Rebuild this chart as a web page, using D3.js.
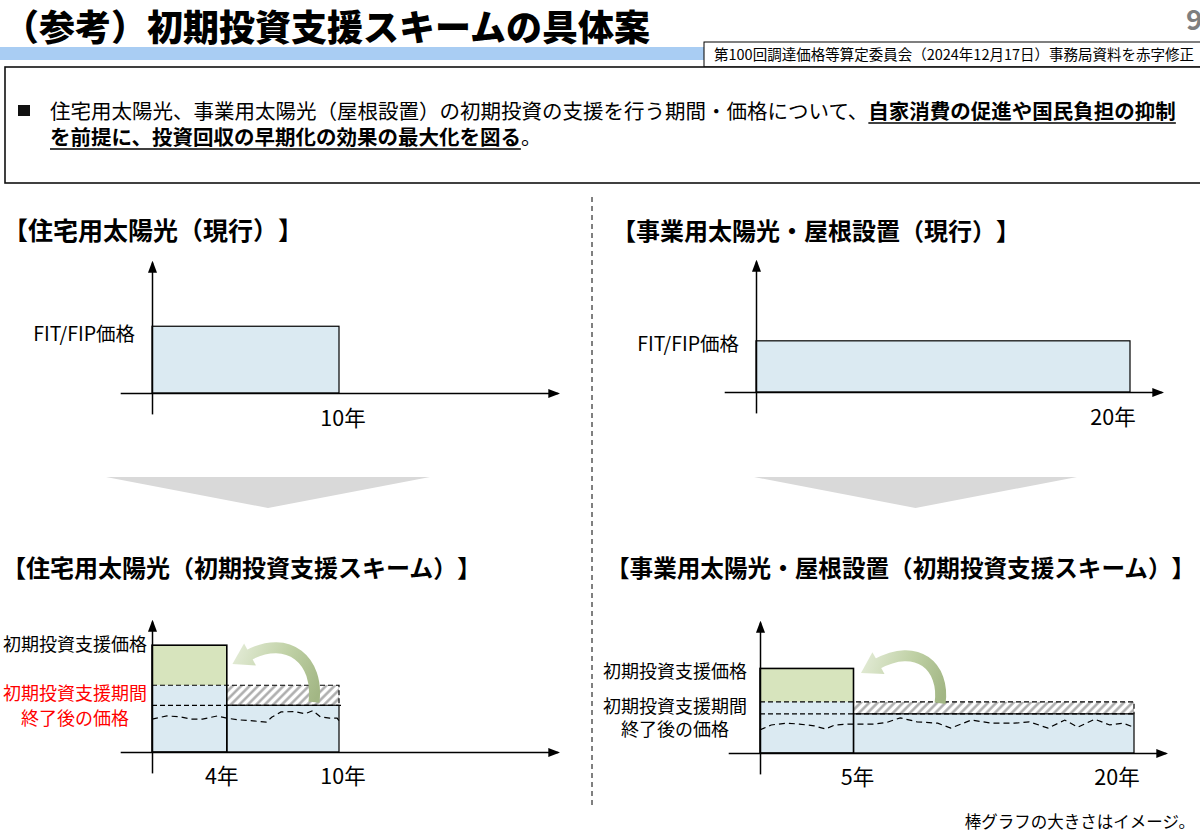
<!DOCTYPE html>
<html><head><meta charset="utf-8">
<script src="https://cdn.jsdelivr.net/npm/d3@7"></script>
<style>
body{margin:0;background:#fff}
svg{display:block}
text{font-family:"Noto Sans CJK JP","Noto Sans",sans-serif;text-spacing-trim:space-all}
</style>
</head><body>
<svg id="c" width="1200" height="837"></svg>
<script>
// ---------- texts ----------
const titleText = "（参考）初期投資支援スキームの具体案";
const sourceNote = "第100回調達価格等算定委員会（2024年12月17日）事務局資料を赤字修正";
const pageNumber = "9";
const bulletNormal1 = "住宅用太陽光、事業用太陽光（屋根設置）の初期投資の支援を行う期間・価格について、";
const bulletBold1 = "自家消費の促進や国民負担の抑制";
const bulletBold2 = "を前提に、投資回収の早期化の効果の最大化を図る";
const bulletNormal2 = "。";
const footnote = "棒グラフの大きさはイメージ。";
const panelTitles = [
  "【住宅用太陽光（現行）】",
  "【事業用太陽光・屋根設置（現行）】",
  "【住宅用太陽光（初期投資支援スキーム）】",
  "【事業用太陽光・屋根設置（初期投資支援スキーム）】"
];
const fitLabel = "FIT/FIP価格";
const supportLabel = "初期投資支援価格";
const afterLabelLines = ["初期投資支援期間", "終了後の価格"];

// ---------- data (years, price units) ----------
const currentYears = [10, 20];
const currentPrice = [15, 11.5];

const schemeSupportYears = [4, 5];
const schemeTotalYears = [10, 20];
const schemeSupportPrice = [24, 19];
const schemeBasePrice = [15, 11.5];
const schemeAfterPrice = [10.5, 8.8];

const marketYearsRes = [0, 0.8, 1.5, 2.1, 2.7, 3.5, 4.0, 4.7, 5.4, 6.1, 6.4, 6.9, 7.6, 8.2, 8.6, 9.0, 9.5, 9.9, 10.0];
const marketPriceRes = [7.4, 8.1, 7.9, 7.4, 7.4, 8.1, 7.6, 7.2, 7.0, 6.7, 7.8, 9.0, 9.1, 8.6, 9.3, 7.9, 7.6, 7.6, 7.0];
const marketYearsBiz = [0, 0.6, 1.4, 2.1, 2.9, 3.5, 4.0, 4.7, 5.4, 6.1, 6.8, 7.5, 8.4, 9.5, 10.2, 11.3, 12.4, 13.6, 14.4, 15.4, 16.3, 17.0, 17.9, 18.7, 19.4, 20.0];
const marketPriceBiz = [5.2, 6.3, 6.7, 6.5, 6.1, 5.4, 6.3, 6.5, 6.5, 6.5, 6.9, 7.9, 7.0, 6.7, 5.6, 7.4, 6.7, 6.7, 7.0, 5.6, 7.4, 5.8, 7.6, 6.3, 6.7, 5.8];

// curved arrow annotation points [year, price]
const arrowTail  = [[8.66, 11.2], [9.63, 11.2]];
const arrowCtrl1 = [[8.95, 20.5], [9.9, 19.4]];
const arrowCtrl2 = [[7.3, 26.6], [8.4, 25.0]];
const arrowTip   = [[4.3, 19.8], [5.4, 18.0]];

// ---------- layout ----------
const pxPerYear = 18.7, pxPerUnit = 4.45;
const xAxisExtent = [-1.7, 21.7];
const yAxisExtent = [-4.7, 29.4];
const panels = [
  {ox:152, ay:393}, {ox:756, ay:392}, {ox:152, ay:752}, {ox:760, ay:753}
];
const C = {blue:"#dbeaf2", green:"#d7e4bd", band:"#a9cdf3", gray:"#d9d9d9", red:"#ff0000"};

const svg = d3.select("#c");
const defs = svg.append("defs");
defs.append("marker").attr("id","ah").attr("viewBox","0 0 12 9")
  .attr("refX",10).attr("refY",4.5).attr("markerWidth",12).attr("markerHeight",9)
  .attr("markerUnits","userSpaceOnUse").attr("orient","auto")
  .append("path").attr("d","M0,0L12,4.5L0,9Z").attr("fill","#000");
const hp = defs.append("pattern").attr("id","hatch").attr("patternUnits","userSpaceOnUse")
  .attr("width",6).attr("height",6).attr("patternTransform","rotate(45)");
hp.append("rect").attr("width",6).attr("height",6).attr("fill","#fff");
hp.append("line").attr("x1",1.5).attr("y1",0).attr("x2",1.5).attr("y2",6)
  .attr("stroke","#a8a8a8").attr("stroke-width",2.4);

// ---------- header ----------
svg.append("rect").attr("x",0).attr("y",47).attr("width",1200).attr("height",13).attr("fill",C.band);
svg.append("text").attr("x",3).attr("y",41).attr("font-size",36).attr("font-weight",900).text(titleText);
svg.append("text").attr("x",1186).attr("y",30).attr("font-size",28).attr("font-weight",700).attr("fill","#7f7f7f").text(pageNumber);
svg.append("rect").attr("x",704).attr("y",42).attr("width",500).attr("height",25).attr("fill","#fff").attr("stroke","#000").attr("stroke-width",1);
svg.append("text").attr("x",714).attr("y",60).attr("font-size",14.5).text(sourceNote);

// bullet box
svg.append("rect").attr("x",5).attr("y",67).attr("width",1200).attr("height",116)
  .attr("fill","#fff").attr("stroke","#111").attr("stroke-width",1.6);
svg.append("rect").attr("x",18).attr("y",105).attr("width",12).attr("height",11).attr("fill","#111");
const fs = 20.5, lx = 50, b1 = 119, b2 = 145;
const t1 = svg.append("text").attr("x",lx).attr("y",b1).attr("font-size",fs).text(bulletNormal1);
const w1 = t1.node().getComputedTextLength();
const t1b = svg.append("text").attr("x",lx+w1).attr("y",b1).attr("font-size",fs).attr("font-weight",700).text(bulletBold1);
const w1b = t1b.node().getComputedTextLength();
svg.append("line").attr("x1",lx+w1).attr("x2",lx+w1+w1b).attr("y1",b1+4).attr("y2",b1+4).attr("stroke","#000").attr("stroke-width",1.6);
const t2 = svg.append("text").attr("x",lx).attr("y",b2).attr("font-size",fs).attr("font-weight",700).text(bulletBold2);
const w2 = t2.node().getComputedTextLength();
svg.append("line").attr("x1",lx).attr("x2",lx+w2).attr("y1",b2+4).attr("y2",b2+4).attr("stroke","#000").attr("stroke-width",1.6);
svg.append("text").attr("x",lx+w2).attr("y",b2).attr("font-size",fs).text(bulletNormal2);

// divider
svg.append("line").attr("x1",592).attr("x2",592).attr("y1",197).attr("y2",808)
  .attr("stroke","#000").attr("stroke-width",1).attr("stroke-dasharray","5,4");

// chevrons
[[106,430,477,508],[754,1077,477,508]].forEach(([a,b,t,bot])=>{
  svg.append("path").attr("d",`M${a},${t}L${b},${t}L${(a+b)/2},${bot}Z`).attr("fill",C.gray);
});

// panel titles
const titlePos = [[3,240,25],[612,240,24],[2,577,24],[606,577,23.6]];
panelTitles.forEach((t,i)=>{
  svg.append("text").attr("x",titlePos[i][0]).attr("y",titlePos[i][1]).attr("font-size",titlePos[i][2]).attr("font-weight",700).text(t);
});

// footnote
svg.append("text").attr("x",1195).attr("y",828).attr("text-anchor","end").attr("font-size",16.5).text(footnote);

// ---------- helpers ----------
function scales(p){
  const xs = d3.scaleLinear().domain([0,20]).range([p.ox, p.ox + 20*pxPerYear]);
  const ys = d3.scaleLinear().domain([0,20]).range([p.ay, p.ay - 20*pxPerUnit]);
  return {xs, ys};
}
function axes(g, xs, ys){
  const xa = xs.copy().domain(xAxisExtent).range(xAxisExtent.map(xs));
  const ya = ys.copy().domain(yAxisExtent).range(yAxisExtent.map(ys));
  const gx = g.append("g").attr("transform",`translate(0,${ys(0)})`)
    .call(d3.axisBottom(xa).tickValues([]).tickSizeOuter(0));
  gx.select(".domain").attr("stroke","#000").attr("stroke-width",1.5).attr("marker-end","url(#ah)");
  const gy = g.append("g").attr("transform",`translate(${xs(0)},0)`)
    .call(d3.axisLeft(ya).tickValues([]).tickSizeOuter(0));
  gy.select(".domain").attr("stroke","#000").attr("stroke-width",1.5).attr("marker-end","url(#ah)");
}
function yearLabel(g, xs, ys, year, dx, dy){
  g.append("text").attr("x",xs(year)+dx).attr("y",ys(0)+dy).attr("text-anchor","middle")
    .attr("font-size",21.5).text(year+"年");
}
function curvedArrow(g, xs, ys, tail, c1, c2, tip, id){
  const T=[xs(tail[0]),ys(tail[1])], A=[xs(c1[0]),ys(c1[1])], Bc=[xs(c2[0]),ys(c2[1])], P=[xs(tip[0]),ys(tip[1])];
  let dx=P[0]-Bc[0], dy=P[1]-Bc[1]; const L=Math.hypot(dx,dy); dx/=L; dy/=L;
  const headLen=20, hh=12.5;
  const B=[P[0]-dx*headLen, P[1]-dy*headLen];
  const gr = defs.append("linearGradient").attr("id",id).attr("gradientUnits","userSpaceOnUse")
    .attr("x1",T[0]).attr("y1",T[1]).attr("x2",P[0]).attr("y2",P[1]);
  gr.append("stop").attr("offset",0).attr("stop-color","#a2b684");
  gr.append("stop").attr("offset",0.5).attr("stop-color","#c0d1a6");
  gr.append("stop").attr("offset",1).attr("stop-color","#e0e9d2");
  g.append("path").attr("d",`M${T[0]},${T[1]}C${A[0]},${A[1]} ${Bc[0]},${Bc[1]} ${B[0]+dx*2},${B[1]+dy*2}`)
    .attr("fill","none").attr("stroke",`url(#${id})`).attr("stroke-width",11);
  g.append("path").attr("d",`M${P[0]},${P[1]}L${B[0]-dy*hh},${B[1]+dx*hh}L${B[0]+dy*hh},${B[1]-dx*hh}Z`)
    .attr("fill",`url(#${id})`);
}

// ---------- current charts ----------
[0,1].forEach(i=>{
  const g = svg.append("g");
  const {xs, ys} = scales(panels[i]);
  g.append("rect").attr("x",xs(0)).attr("y",ys(currentPrice[i]))
    .attr("width",xs(currentYears[i])-xs(0)).attr("height",ys(0)-ys(currentPrice[i]))
    .attr("fill",C.blue).attr("stroke","#000").attr("stroke-width",1.2);
  axes(g, xs, ys);
  g.append("text").attr("x",xs(0)-17).attr("y",ys(currentPrice[i])+ (i===0?9:5))
    .attr("text-anchor","end").attr("dominant-baseline","middle").attr("font-size",19.5).text(fitLabel);
  yearLabel(g, xs, ys, currentYears[i], i===0?4:-17, 33);
});

// ---------- scheme charts ----------
const markets = [[marketYearsRes, marketPriceRes],[marketYearsBiz, marketPriceBiz]];
[0,1].forEach(i=>{
  const g = svg.append("g");
  const {xs, ys} = scales(panels[i+2]);
  const s = schemeSupportYears[i], T = schemeTotalYears[i];
  const sp = schemeSupportPrice[i], bp = schemeBasePrice[i], ap = schemeAfterPrice[i];
  // hatch
  g.append("rect").attr("x",xs(s)).attr("y",ys(bp)).attr("width",xs(T)-xs(s)).attr("height",ys(ap)-ys(bp))
    .attr("fill","url(#hatch)");
  // later bar
  g.append("rect").attr("x",xs(s)).attr("y",ys(ap)).attr("width",xs(T)-xs(s)).attr("height",ys(0)-ys(ap))
    .attr("fill",C.blue).attr("stroke","#000").attr("stroke-width",1.2);
  // first bar
  g.append("rect").attr("x",xs(0)).attr("y",ys(sp)).attr("width",xs(s)-xs(0)).attr("height",ys(bp)-ys(sp))
    .attr("fill",C.green);
  g.append("rect").attr("x",xs(0)).attr("y",ys(bp)).attr("width",xs(s)-xs(0)).attr("height",ys(0)-ys(bp))
    .attr("fill",C.blue);
  g.append("rect").attr("x",xs(0)).attr("y",ys(sp)).attr("width",xs(s)-xs(0)).attr("height",ys(0)-ys(sp))
    .attr("fill","none").attr("stroke","#000").attr("stroke-width",1.6);
  // dashed lines
  g.append("path").attr("d",`M${xs(0)},${ys(bp)}H${xs(T)}V${ys(ap)}`)
    .attr("fill","none").attr("stroke","#000").attr("stroke-width",1.2).attr("stroke-dasharray","5,3");
  g.append("line").attr("x1",xs(0)).attr("x2",xs(T)+(i===0?4:0)).attr("y1",ys(ap)).attr("y2",ys(ap))
    .attr("stroke","#000").attr("stroke-width",1.2).attr("stroke-dasharray","5,3");
  // market wave
  const [my, mp] = markets[i];
  const line = d3.line().x(d=>xs(d[0])).y(d=>ys(d[1]));
  g.append("path").attr("d", line(d3.zip(my, mp))).attr("fill","none")
    .attr("stroke","#000").attr("stroke-width",1.2).attr("stroke-dasharray","6,4");
  axes(g, xs, ys);
  // arrow
  curvedArrow(g, xs, ys, arrowTail[i], arrowCtrl1[i], arrowCtrl2[i], arrowTip[i], "ag"+i);
  // labels
  const cx = i===0 ? xs(0)-77 : xs(0)-85;
  g.append("text").attr("x",cx).attr("y",ys(sp)+(i===0?1:5)).attr("text-anchor","middle")
    .attr("dominant-baseline","middle").attr("font-size",18).text(supportLabel);
  afterLabelLines.forEach((t,k)=>{
    g.append("text").attr("x",cx).attr("y",(i===0?ys(bp)+10:ys(bp)+6)+k*(i===0?25:23))
      .attr("text-anchor","middle").attr("dominant-baseline","middle").attr("font-size",18)
      .attr("fill", i===0 ? C.red : "#000").text(t);
  });
  yearLabel(g, xs, ys, s, i===0?-5:4, 32);
  yearLabel(g, xs, ys, T, i===0?4:-17, 32);
});
</script>
</body></html>
